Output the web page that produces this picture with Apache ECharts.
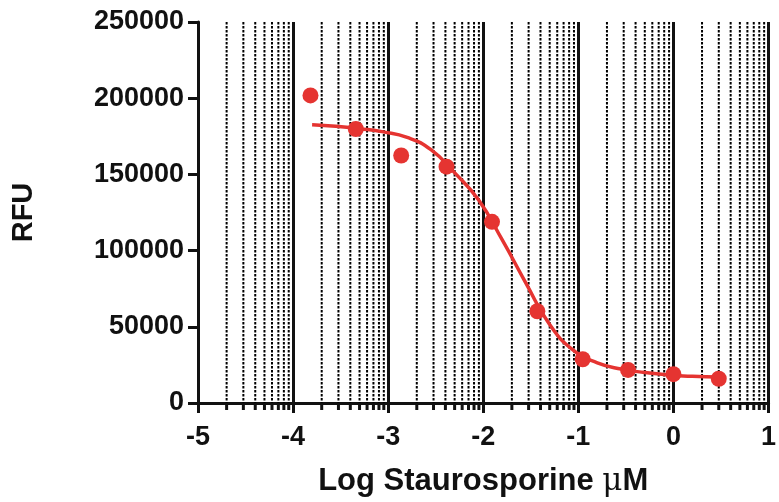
<!DOCTYPE html>
<html>
<head>
<meta charset="utf-8">
<script src="https://cdn.jsdelivr.net/npm/echarts@6/dist/echarts.min.js"></script>
<style>html,body{margin:0;padding:0;background:#fff}#c{width:779px;height:502px}</style>
</head>
<body>
<div id="c"></div>
<script>
// Measured data points (log concentration, RFU)
const logConc = [-3.817, -3.340, -2.863, -2.386, -1.908, -1.431, -0.954, -0.477, 0.0, 0.477];
const rfu = [201800, 179800, 162400, 155100, 118900, 60200, 28700, 21700, 18900, 15900];

// Fitted curve
const curveX = [-3.80, -3.55, -3.30, -3.05, -2.80, -2.55, -2.30, -2.05, -1.80, -1.55, -1.30, -1.05, -0.80, -0.55, -0.30, -0.05, 0.20, 0.48];
const curveY = [182600, 181600, 180000, 177900, 174300, 166200, 151000, 133300, 107000, 78500, 51400, 34500, 26400, 22300, 20000, 18400, 17500, 17000];

// Axis ticks
const xTicks = [-5, -4, -3, -2, -1, 0, 1];
const yTicks = [0, 50000, 100000, 150000, 200000, 250000];
const decades = [-5, -4, -3, -2, -1, 0];
const minorMultipliers = [2, 3, 4, 5, 6, 7, 8, 9];

const minorPositions = [];
decades.forEach(d => minorMultipliers.forEach(m => minorPositions.push([d + Math.log10(m)])));

const red = '#e53431';
const font = '"Liberation Sans", Arial, sans-serif';

const chart = echarts.init(document.getElementById('c'), null, {renderer: 'canvas'});
chart.setOption({
  animation: false,
  backgroundColor: '#fff',
  grid: {left: 198, right: 6, top: 22, bottom: 96, containLabel: false},
  xAxis: {
    type: 'value', min: xTicks[0], max: xTicks[xTicks.length - 1], interval: 1,
    axisLine: {show: true, onZero: false, lineStyle: {color: '#111', width: 3}},
    axisTick: {show: true, length: 10, lineStyle: {color: '#111', width: 3}},
    splitLine: {show: true, lineStyle: {color: '#111', width: 3, type: 'solid'}},
    axisLabel: {color: '#111', fontSize: 27, fontWeight: 'bold', fontFamily: font, margin: 21},
    name: '{a|Log Staurosporine }{b|μ}{a|M}',
    nameLocation: 'middle', nameGap: 63,
    nameTextStyle: {
      rich: {
        a: {fontSize: 31, fontWeight: 'bold', color: '#111', fontFamily: font},
        b: {fontSize: 31, fontWeight: 'normal', color: '#111', fontFamily: '"DejaVu Serif", serif'}
      }
    }
  },
  yAxis: {
    type: 'value', min: yTicks[0], max: yTicks[yTicks.length - 1], interval: 50000,
    axisLine: {show: true, onZero: false, lineStyle: {color: '#111', width: 3}},
    axisTick: {show: true, length: 10, lineStyle: {color: '#111', width: 3}},
    splitLine: {show: false},
    axisLabel: {color: '#111', fontSize: 27, fontWeight: 'bold', fontFamily: font, margin: 14,
                formatter: v => String(v)},
    name: 'RFU', nameLocation: 'middle', nameGap: 160, nameRotate: 90,
    nameTextStyle: {fontSize: 29, fontWeight: 'bold', color: '#111', fontFamily: font}
  },
  series: [
    {
      type: 'custom',
      silent: true,
      clip: false,
      z: 1,
      data: minorPositions,
      renderItem: function (params, api) {
        const x = api.value(0);
        const top = api.coord([x, yTicks[yTicks.length - 1]]);
        const bot = api.coord([x, yTicks[0]]);
        return {
          type: 'group',
          children: [
            {type: 'line', shape: {x1: top[0], y1: top[1], x2: bot[0], y2: bot[1]},
             style: {stroke: '#000', lineWidth: 2, lineDash: [2.5, 1.5]}},
            {type: 'line', shape: {x1: bot[0], y1: bot[1], x2: bot[0], y2: bot[1] + 7},
             style: {stroke: '#111', lineWidth: 3}}
          ]
        };
      }
    },
    {
      type: 'line',
      data: curveX.map((x, i) => [x, curveY[i]]),
      smooth: 0.5,
      showSymbol: false,
      symbol: 'none',
      lineStyle: {color: red, width: 3.5},
      z: 3
    },
    {
      type: 'scatter',
      data: logConc.map((x, i) => [x, rfu[i]]),
      symbol: 'circle',
      symbolSize: 16,
      itemStyle: {color: red, opacity: 1},
      z: 4
    }
  ]
});
</script>
</body>
</html>
